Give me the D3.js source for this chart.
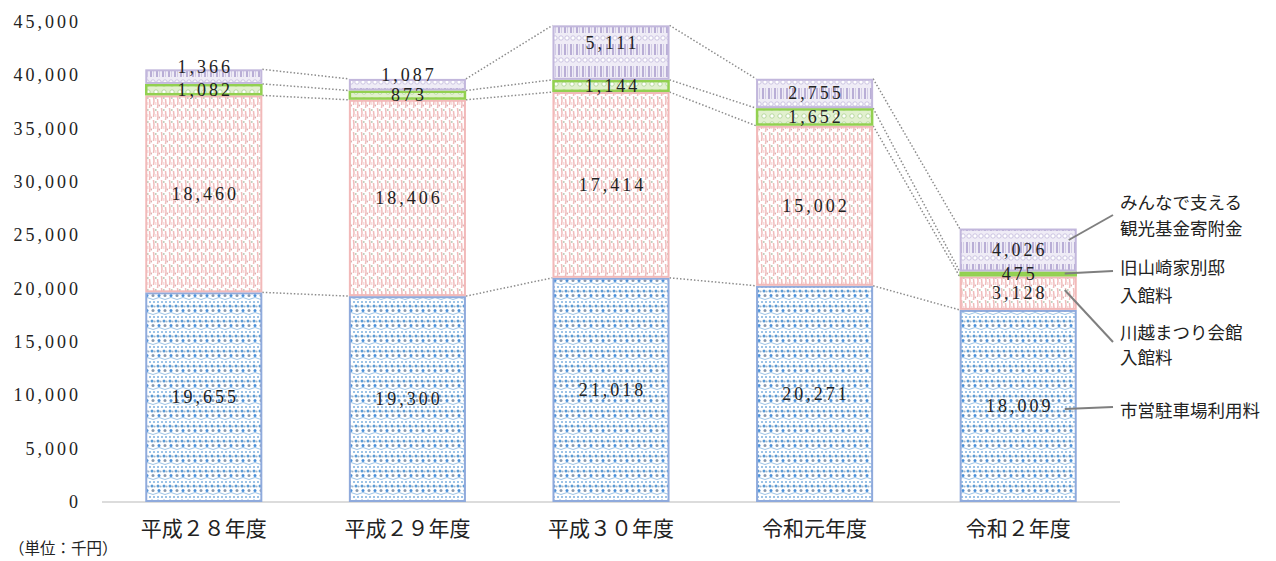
<!DOCTYPE html>
<html>
<head>
<meta charset="utf-8">
<script src="https://cdn.jsdelivr.net/npm/d3@7"></script>
<style>
  body { margin: 0; background: #fff; }
  .num { font-family: "Liberation Serif", "DejaVu Serif", serif; font-size: 18px; letter-spacing: 3px; fill: #222; }
  .jp { font-family: "Noto Sans CJK JP", sans-serif; fill: #222; }
</style>
</head>
<body>
<div id="chart"></div>
<script>
// data (千円)
const years = ['平成２８年度', '平成２９年度', '平成３０年度', '令和元年度', '令和２年度']
const parking = [19655, 19300, 21018, 20271, 18009]      // 市営駐車場利用料
const matsuri = [18460, 18406, 17414, 15002, 3128]       // 川越まつり会館入館料
const yamazaki = [1082, 873, 1144, 1652, 475]            // 旧山崎家別邸入館料
const kikin = [1366, 1087, 5111, 2755, 4026]             // みんなで支える観光基金寄附金
const seriesNames = [['市営駐車場利用料'], ['川越まつり会館', '入館料'], ['旧山崎家別邸', '入館料'], ['みんなで支える', '観光基金寄附金']]
const yTicks = [0, 5000, 10000, 15000, 20000, 25000, 30000, 35000, 40000, 45000]

const W = 1276, H = 561
const svg = d3.select('#chart').append('svg').attr('width', W).attr('height', H)

const x = d3.scaleBand().domain(years).range([102, 1120]).paddingInner(0.425).paddingOuter(0.2125)
const y = d3.scaleLinear().domain([0, 45000]).range([502, 22])

// patterns
const defs = svg.append('defs')
function pat(id, w, h, draw) {
  const p = defs.append('pattern').attr('id', id).attr('patternUnits', 'userSpaceOnUse').attr('width', w).attr('height', h)
  p.append('rect').attr('width', w).attr('height', h).attr('fill', '#fff')
  draw(p)
}
// blue dots
pat('pBlue', 12, 15, p => {
  ;[0, 4, 8].forEach(cx => p.append('rect').attr('x', cx + 1).attr('y', 1).attr('width', 2).attr('height', 2).attr('fill', '#9dc3e6'))
  ;[0, 6].forEach(cx => p.append('circle').attr('cx', cx + 2).attr('cy', 6).attr('r', 1.5).attr('fill', '#5b9bd5'))
  ;[0, 6].forEach(cx => p.append('circle').attr('cx', cx + 4.5).attr('cy', 6.5).attr('r', 1.1).attr('fill', '#a5b8cc'))
  ;[3, 9].forEach(cx => p.append('circle').attr('cx', cx).attr('cy', 10.5).attr('r', 1.5).attr('fill', cx == 3 ? '#4a90d9' : '#8a9bb0'))
  p.append('path').attr('d', 'M0,13.5 Q3,11.5 6,13.5 Q9,15.5 12,13.5').attr('stroke', '#9dc3e6').attr('fill', 'none').attr('stroke-width', 1)
})
// pink texture
pat('pPink', 8, 12, p => {
  p.append('path').attr('d', 'M1.5,0 L2,5 L1.5,9 M5.5,3 L6,8 L5.5,12').attr('stroke', '#f1bcbc').attr('stroke-width', 1.5).attr('fill', 'none')
  p.append('circle').attr('cx', 3.8).attr('cy', 2).attr('r', 0.9).attr('fill', '#b8c7b2')
  p.append('circle').attr('cx', 7.5).attr('cy', 9.5).attr('r', 0.9).attr('fill', '#dcb0b0')
  p.append('rect').attr('x', 3).attr('y', 6).attr('width', 1.5).attr('height', 3).attr('fill', '#f8dcdc')
})
// green
pat('pGreen', 8, 8, p => {
  p.append('rect').attr('width', 8).attr('height', 8).attr('fill', '#e2f0cf')
  p.append('circle').attr('cx', 4).attr('cy', 4).attr('r', 2.2).attr('fill', '#fff').attr('stroke', '#a9d18e').attr('stroke-width', 0.8)
})
// purple stripes + circles
pat('pPurple', 6, 22, p => {
  p.append('rect').attr('width', 6).attr('height', 22).attr('fill', '#efecf6')
  p.append('rect').attr('x', 0).attr('y', 0).attr('width', 2).attr('height', 11).attr('fill', '#b9aed6')
  p.append('rect').attr('x', 3).attr('y', 0).attr('width', 1).attr('height', 11).attr('fill', '#d2cbe5')
  p.append('circle').attr('cx', 3).attr('cy', 16).attr('r', 2.2).attr('fill', '#fff').attr('stroke', '#c6bddf').attr('stroke-width', 0.9)
})

const series = [
  { vals: parking, fill: 'url(#pBlue)', stroke: '#8faadc', sw: 2 },
  { vals: matsuri, fill: 'url(#pPink)', stroke: '#f2b9b9', sw: 2 },
  { vals: yamazaki, fill: 'url(#pGreen)', stroke: '#92d050', sw: 2.5 },
  { vals: kikin, fill: 'url(#pPurple)', stroke: '#c2b7dc', sw: 2 }
]

// stack
const rows = years.map((yr, i) => {
  let acc = 0
  return series.map((s, k) => {
    const r = { year: yr, i, k, v: s.vals[i], y0: acc, y1: acc + s.vals[i] }
    acc += s.vals[i]
    return r
  })
})

// connectors (dotted)
const conn = svg.append('g')
for (let i = 0; i < years.length - 1; i++) {
  series.forEach((s, k) => {
    conn.append('line')
      .attr('x1', x(years[i]) + x.bandwidth()).attr('y1', y(rows[i][k].y1))
      .attr('x2', x(years[i + 1])).attr('y2', y(rows[i + 1][k].y1))
      .attr('stroke', '#8c8c8c').attr('stroke-width', 1.5).attr('stroke-dasharray', '1.5,2')
  })
}

// axis line
svg.append('line').attr('x1', 102).attr('x2', 1120).attr('y1', y(0)).attr('y2', y(0)).attr('stroke', '#d0d0d0').attr('stroke-width', 1.5)

// bars
const bars = svg.append('g')
rows.flat().forEach(d => {
  const s = series[d.k]
  bars.append('rect')
    .attr('x', x(d.year) + 1).attr('width', x.bandwidth() - 2)
    .attr('y', y(d.y1) + s.sw / 2).attr('height', Math.max(0, y(d.y0) - y(d.y1) - s.sw))
    .attr('fill', s.fill).attr('stroke', s.stroke).attr('stroke-width', s.sw)
})

// value labels
rows.flat().forEach(d => {
  const shift = (d.k == 3 && d.i < 3) ? -10 : 0
  svg.append('text').attr('class', 'num')
    .attr('x', x(d.year) + x.bandwidth() / 2 + 1.5)
    .attr('y', (y(d.y0) + y(d.y1)) / 2 + shift)
    .attr('text-anchor', 'middle').attr('dominant-baseline', 'central')
    .text(d3.format(',')(d.v))
})

// y axis labels
svg.append('g').selectAll('text').data(yTicks).join('text').attr('class', 'num')
  .attr('x', 81).attr('y', d => y(d)).attr('text-anchor', 'end').attr('dominant-baseline', 'central')
  .text(d => d3.format(',')(d))

// category labels
svg.append('g').selectAll('text').data(years).join('text').attr('class', 'jp')
  .attr('x', d => x(d) + x.bandwidth() / 2).attr('y', 527)
  .attr('text-anchor', 'middle').attr('dominant-baseline', 'central').style('font-size', '21px')
  .text(d => d)

svg.append('text').attr('class', 'jp').attr('x', 9).attr('y', 547).attr('dominant-baseline', 'central')
  .style('font-size', '15.5px').text('（単位：千円）')

// legend with leader lines on the last bar
const last = rows[years.length - 1]
const bx = x(years[years.length - 1]), bw = x.bandwidth()
const legY = [[409], [331, 356], [266, 294], [201, 227]]
const leadFrom = [[bx + bw - 12, y((last[0].y0 + last[0].y1) / 2) + 3], [bx + bw - 12, 290], [bx + bw - 12, y(last[2].y1) + 2], [bx + bw - 8, 240]]
const leadTo = [[1113, 407], [1113, 342], [1113, 271], [1113, 215]]
const leg = svg.append('g')
seriesNames.forEach((lines, k) => {
  leg.append('line').attr('x1', leadFrom[k][0]).attr('y1', leadFrom[k][1]).attr('x2', leadTo[k][0]).attr('y2', leadTo[k][1])
    .attr('stroke', '#7f7f7f').attr('stroke-width', 2)
  lines.forEach((t, j) => {
    leg.append('text').attr('class', 'jp').attr('x', 1120).attr('y', legY[k][j])
      .attr('dominant-baseline', 'central').style('font-size', '17.5px').text(t)
  })
})
</script>
</body>
</html>
